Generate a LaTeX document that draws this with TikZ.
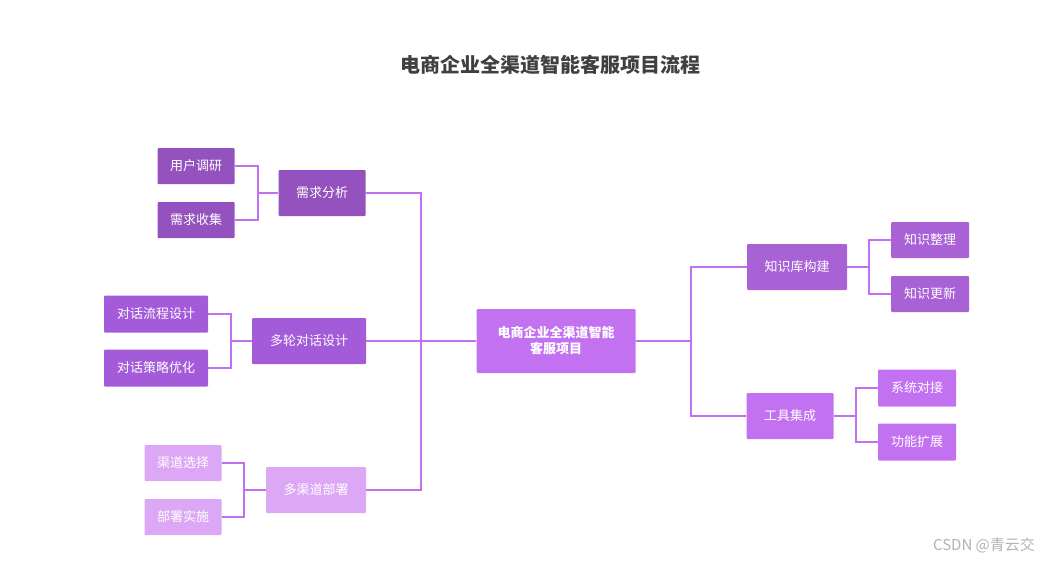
\documentclass[tikz,border=0pt]{standalone}
\usepackage{fontspec}
\setmainfont{Noto Sans CJK SC}
\begin{document}
\begin{tikzpicture}[x=1pt,y=-1pt,
 bx/.style={rectangle,rounded corners=1pt,text=white,font=\fontsize{13}{15}\selectfont,inner sep=0pt,align=center},
 ln/.style={draw=lnc,line width=2pt}]
\definecolor{lnc}{HTML}{C070F0}
\definecolor{ca}{HTML}{9452BE}
\definecolor{cb}{HTML}{A45BDA}
\definecolor{cc}{HTML}{DCA8F5}
\definecolor{cd}{HTML}{A862D6}
\definecolor{ce}{HTML}{C272F0}
\useasboundingbox (0,0) rectangle (1057,562);
\node[font=\fontsize{20}{24}\selectfont\bfseries,text=black!75] (title) at (550,65) {电商企业全渠道智能客服项目流程};
\node[bx,fill=ce,minimum width=159,minimum height=64,font=\fontsize{13}{16}\selectfont\bfseries] (c) at (556,341) {电商企业全渠道智能\\客服项目};
\node[bx,fill=ca,minimum width=87,minimum height=46] (a) at (322,193) {需求分析};
\node[bx,fill=ca,minimum width=77,minimum height=36] (a1) at (196,166) {用户调研};
\node[bx,fill=ca,minimum width=77,minimum height=36] (a2) at (196,220) {需求收集};
\node[bx,fill=cb,minimum width=114,minimum height=46] (b) at (309,341) {多轮对话设计};
\node[bx,fill=cb,minimum width=104,minimum height=37] (b1) at (156,314) {对话流程设计};
\node[bx,fill=cb,minimum width=104,minimum height=37] (b2) at (156,368) {对话策略优化};
\node[bx,fill=cc,minimum width=100,minimum height=46] (d) at (316,490) {多渠道部署};
\node[bx,fill=cc,minimum width=77,minimum height=36] (d1) at (183,463) {渠道选择};
\node[bx,fill=cc,minimum width=77,minimum height=36] (d2) at (183,517) {部署实施};
\node[bx,fill=cd,minimum width=100,minimum height=46] (k) at (797,267) {知识库构建};
\node[bx,fill=cd,minimum width=78,minimum height=36] (k1) at (930,240) {知识整理};
\node[bx,fill=cd,minimum width=78,minimum height=36] (k2) at (930,294) {知识更新};
\node[bx,fill=ce,minimum width=87,minimum height=46] (t) at (790,416) {工具集成};
\node[bx,fill=ce,minimum width=78,minimum height=37] (t1) at (917,388) {系统对接};
\node[bx,fill=ce,minimum width=78,minimum height=37] (t2) at (917,442) {功能扩展};
\node[text=black!30,font=\fontsize{15}{18}\selectfont] (wm) at (984,545) {CSDN @青云交};
% connectors
\draw[ln] (a.east) -- (421,193) |- (c.west);
\draw[ln] (b.east) -- (c.west);
\draw[ln] (d.east) -- (421,490) |- (c.west);
\draw[ln] (a1.east) -- (258,166) |- (a.west);
\draw[ln] (a2.east) -- (258,220) |- (a.west);
\draw[ln] (b1.east) -- (231,314) |- (b.west);
\draw[ln] (b2.east) -- (231,368) |- (b.west);
\draw[ln] (d1.east) -- (244,463) |- (d.west);
\draw[ln] (d2.east) -- (244,517) |- (d.west);
\draw[ln] (c.east) -- (691,341) |- (k.west);
\draw[ln] (c.east) -- (691,341) |- (t.west);
\draw[ln] (k.east) -- (869,267) |- (k1.west);
\draw[ln] (k.east) -- (869,267) |- (k2.west);
\draw[ln] (t.east) -- (856,416) |- (t1.west);
\draw[ln] (t.east) -- (856,416) |- (t2.west);
\end{tikzpicture}
\end{document}
